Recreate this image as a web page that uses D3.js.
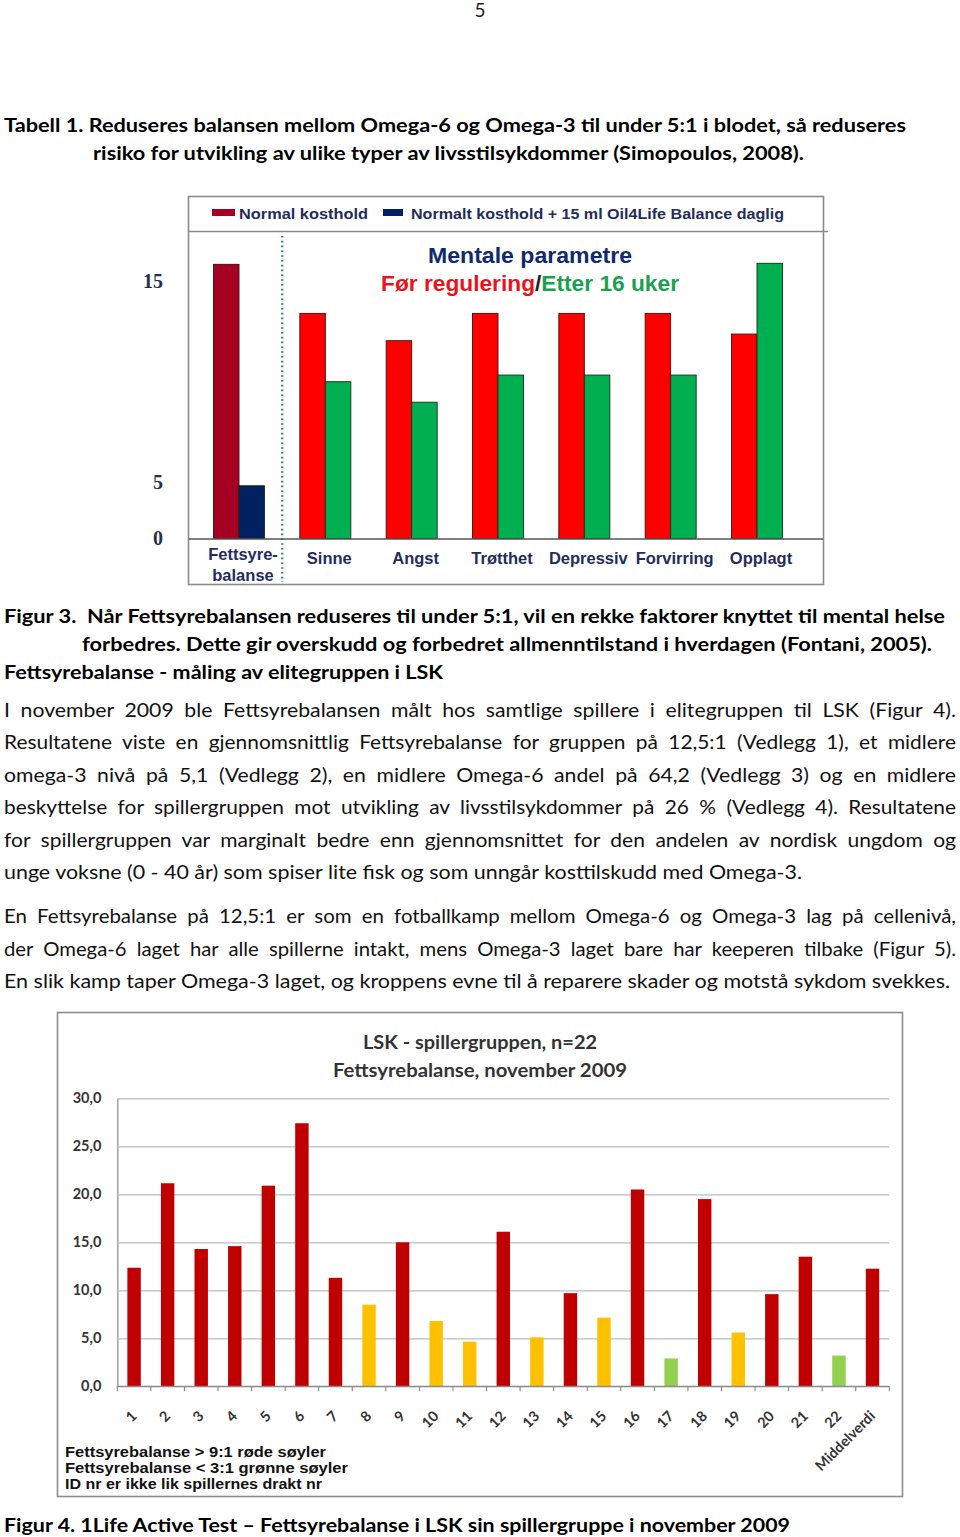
<!DOCTYPE html>
<html>
<head>
<meta charset="utf-8">
<script src="https://cdn.jsdelivr.net/npm/d3@7"></script>
<style>
  html, body { margin: 0; padding: 0; background: #fff; }
  svg { display: block; }
  text { white-space: pre; }
</style>
</head>
<body>
<svg id="page" width="960" height="1537"></svg>
<script>
// ---------------- DATA ----------------
// Figure 3: mental parameters
const mentalCategories = ["Fettsyre-balanse", "Sinne", "Angst", "Trøtthet", "Depressiv", "Forvirring", "Opplagt"];
const beforeValues = [15.83, 13.39, 12.03, 13.39, 13.39, 13.39, 12.36];
const afterValues  = [4.67, 9.99, 8.97, 10.32, 10.32, 10.32, 15.88];
const mentalTicks = [0, 5, 15];
const legendLabels = ["Normal kosthold", "Normalt kosthold + 15 ml Oil4Life Balance daglig"];

// Figure 4: LSK players fatty-acid balance
const players = ["1","2","3","4","5","6","7","8","9","10","11","12","13","14","15","16","17","18","19","20","21","22","Middelverdi"];
const ratios = [12.35, 21.15, 14.3, 14.6, 20.9, 27.4, 11.3, 8.5, 15.0, 6.8, 4.65, 16.1, 5.1, 9.7, 7.15, 20.5, 2.9, 19.5, 5.6, 9.6, 13.5, 3.2, 12.25];
const ratioTicks = [0, 5, 10, 15, 20, 25, 30];
const notes = ["Fettsyrebalanse > 9:1 røde søyler", "Fettsyrebalanse < 3:1 grønne søyler", "ID nr er ikke lik spillernes drakt nr"];

// ---------------- HELPERS ----------------
const svg = d3.select("#page");
const BODY = "Lato, 'Open Sans', sans-serif";
const ARIAL = "'Liberation Sans', Arial, sans-serif";

function putText(g, s, x, y, o) {
  const t = g.append("text")
    .attr("x", x).attr("y", y)
    .attr("font-family", o.family || BODY)
    .attr("font-size", o.size || 18.6)
    .attr("font-weight", o.bold ? 700 : 400)
    .attr("fill", o.fill || "#000")
    .attr("text-anchor", o.anchor || "start")
    .text(s);
  if (o.end !== undefined) {
    const target = o.end - x;
    const w = t.node().getComputedTextLength();
    const n = (s.match(/ /g) || []).length;
    if (o.justify && w < target && n > 0) {
      const ws = Math.min((target - w) / n, 4.5);
      t.attr("word-spacing", ws);
    }
    t.attr("textLength", target).attr("lengthAdjust", "spacingAndGlyphs");
  }
  return t;
}

// ---------------- PAGE TEXT ----------------
const pg = svg.append("g");
putText(pg, "5", 480, 17, {size: 19, anchor: "middle", fill: "#222"});
putText(pg, "Tabell 1. Reduseres balansen mellom Omega-6 og Omega-3 til under 5:1 i blodet, så reduseres", 4, 132, {bold: true, size: 19, end: 906});
putText(pg, "risiko for utvikling av ulike typer av livsstilsykdommer (Simopoulos, 2008).", 93, 160, {bold: true, size: 19, end: 804});
putText(pg, "Figur 3.  Når Fettsyrebalansen reduseres til under 5:1, vil en rekke faktorer knyttet til mental helse", 4, 623, {bold: true, size: 19, end: 945});
putText(pg, "forbedres. Dette gir overskudd og forbedret allmenntilstand i hverdagen (Fontani, 2005).", 82, 651, {bold: true, size: 19, end: 932});
putText(pg, "Fettsyrebalanse - måling av elitegruppen i LSK", 4, 679, {bold: true, size: 19, end: 443});

const para1 = [
  ["I november 2009 ble Fettsyrebalansen målt hos samtlige spillere i elitegruppen til LSK (Figur 4).", 956, true],
  ["Resultatene viste en gjennomsnittlig Fettsyrebalanse for gruppen på 12,5:1 (Vedlegg 1), et midlere", 956, true],
  ["omega-3 nivå på 5,1 (Vedlegg 2), en midlere Omega-6 andel på 64,2 (Vedlegg 3) og en midlere", 956, true],
  ["beskyttelse for spillergruppen mot utvikling av livsstilsykdommer på 26 % (Vedlegg 4). Resultatene", 956, true],
  ["for spillergruppen var marginalt bedre enn gjennomsnittet for den andelen av nordisk ungdom og", 956, true],
  ["unge voksne (0 - 40 år) som spiser lite fisk og som unngår kosttilskudd med Omega-3.", 802, false]
];
para1.forEach((l, i) => putText(pg, l[0], 4, 717 + i * 32.4, {end: l[1], justify: l[2], fill: "#111"}));
const para2 = [
  ["En Fettsyrebalanse på 12,5:1 er som en fotballkamp mellom Omega-6 og Omega-3 lag på cellenivå,", 956, true],
  ["der Omega-6 laget har alle spillerne intakt, mens Omega-3 laget bare har keeperen tilbake (Figur 5).", 956, true],
  ["En slik kamp taper Omega-3 laget, og kroppens evne til å reparere skader og motstå sykdom svekkes.", 950, false]
];
para2.forEach((l, i) => putText(pg, l[0], 4, 923 + i * 32.5, {end: l[1], justify: l[2], fill: "#111"}));
putText(pg, "Figur 4. 1Life Active Test – Fettsyrebalanse i LSK sin spillergruppe i november 2009", 4, 1532, {bold: true, size: 19, end: 790});

// ---------------- FIGURE 3 ----------------
const f3 = svg.append("g");
f3.append("rect").attr("x", 188.5).attr("y", 196.5).attr("width", 635).attr("height", 388)
  .attr("fill", "#fff").attr("stroke", "#8a8a8a").attr("stroke-width", 1.6);
f3.append("line").attr("x1", 189).attr("x2", 828).attr("y1", 231.5).attr("y2", 231.5)
  .attr("stroke", "#8a8a8a").attr("stroke-width", 1.3);

// legend
const navyText = "#1f2d5c";
f3.append("rect").attr("x", 212).attr("y", 209).attr("width", 23).attr("height", 7).attr("fill", "#a50021");
putText(f3, legendLabels[0], 239, 219, {family: ARIAL, bold: true, size: 15.5, fill: navyText, end: 368});
f3.append("rect").attr("x", 383).attr("y", 209).attr("width", 20).attr("height", 7).attr("fill", "#002060");
putText(f3, legendLabels[1], 411, 219, {family: ARIAL, bold: true, size: 15.5, fill: navyText, end: 784});

// titles
putText(f3, "Mentale parametre", 428, 263, {family: ARIAL, bold: true, size: 22, fill: "#102a6b", end: 632});
const t2 = f3.append("text").attr("x", 381).attr("y", 291)
  .attr("font-family", ARIAL).attr("font-weight", 700).attr("font-size", 22);
t2.append("tspan").attr("fill", "#e8141b").text("Før regulering");
t2.append("tspan").attr("fill", "#222").text("/");
t2.append("tspan").attr("fill", "#1ba14f").text("Etter 16 uker");
t2.attr("textLength", 298).attr("lengthAdjust", "spacingAndGlyphs");

// scales
const x3 = d3.scalePoint().domain(mentalCategories).range([239, 757]);
const x3s = d3.scaleBand().domain(["before", "after"]).range([-25.5, 25.5]);
const y3 = d3.scaleLinear().domain(mentalTicks).range([538.5, 482, 281]);

// dotted divider between first group and the rest
const divX = (x3(mentalCategories[0]) + x3(mentalCategories[1])) / 2;
f3.append("line").attr("x1", divX).attr("x2", divX).attr("y1", 236).attr("y2", 582)
  .attr("stroke", "#2f8088").attr("stroke-width", 2.4).attr("stroke-dasharray", "1.6,3.2");

const colBefore = (i) => i === 0 ? "#a50021" : "#ff0000";
const colAfter = (i) => i === 0 ? "#002060" : "#00b050";

const groups3 = f3.selectAll("g.grp").data(mentalCategories).join("g")
  .attr("transform", d => `translate(${x3(d)},0)`);
groups3.append("rect")
  .attr("x", x3s("before")).attr("width", x3s.bandwidth())
  .attr("y", (d, i) => y3(beforeValues[i]))
  .attr("height", (d, i) => y3(0) - y3(beforeValues[i]))
  .attr("fill", (d, i) => colBefore(i)).attr("stroke", "#3a1010").attr("stroke-width", 0.9);
groups3.append("rect")
  .attr("x", x3s("after")).attr("width", x3s.bandwidth())
  .attr("y", (d, i) => y3(afterValues[i]))
  .attr("height", (d, i) => y3(0) - y3(afterValues[i]))
  .attr("fill", (d, i) => colAfter(i)).attr("stroke", "#1b2b1b").attr("stroke-width", 0.9);

// axis line
f3.append("line").attr("x1", 189).attr("x2", 823).attr("y1", 539).attr("y2", 539)
  .attr("stroke", "#555").attr("stroke-width", 1.3);

// y labels
f3.selectAll("text.yl").data(mentalTicks).join("text")
  .attr("x", 163).attr("y", d => y3(d)).attr("dy", "0.33em")
  .attr("text-anchor", "end")
  .attr("font-family", "'Liberation Serif', 'Times New Roman', serif")
  .attr("font-weight", 700).attr("font-size", 20).attr("fill", "#24314d")
  .text(d => d);

// category labels
groups3.each(function(d) {
  const g = d3.select(this);
  const parts = d.includes("-") ? [d.slice(0, d.indexOf("-") + 1), d.slice(d.indexOf("-") + 1)] : [d];
  const t = g.append("text").attr("text-anchor", "middle")
    .attr("font-family", ARIAL).attr("font-weight", 700).attr("font-size", 16.5).attr("fill", "#1f2d5c");
  if (parts.length === 2) {
    t.append("tspan").attr("x", 4).attr("y", 560).text(parts[0]);
    t.append("tspan").attr("x", 4).attr("y", 581).text(parts[1]);
  } else {
    t.attr("x", 4).attr("y", 564).text(parts[0]);
  }
});

// ---------------- FIGURE 4 ----------------
const f4 = svg.append("g");
f4.append("rect").attr("x", 57.5).attr("y", 1012.5).attr("width", 845).attr("height", 484)
  .attr("fill", "#fff").attr("stroke", "#8c8c8c").attr("stroke-width", 1.6);

putText(f4, "LSK - spillergruppen, n=22", 363, 1049, {bold: true, size: 19, fill: "#333", end: 597});
putText(f4, "Fettsyrebalanse, november 2009", 333, 1077, {bold: true, size: 19, fill: "#333", end: 627});

const x4 = d3.scaleBand().domain(players).range([117.3, 889.3]).paddingInner(0.6).paddingOuter(0.3);
const y4 = d3.scaleLinear().domain([0, 30]).range([1386.3, 1098.3]);

const fmt = v => d3.format(".1f")(v).replace(".", ",");
const yAxis = d3.axisLeft(y4).tickValues(ratioTicks).tickFormat(fmt)
  .tickSize(-(889.3 - 117.3)).tickSizeOuter(0).tickPadding(16);
const ya = f4.append("g").attr("transform", "translate(117.3,0)").call(yAxis);
ya.select(".domain").attr("stroke", "#8a8a8a").attr("stroke-width", 1.2);
ya.selectAll(".tick line").attr("stroke", "#bdbdbd").attr("stroke-width", 1.2);
ya.selectAll(".tick text").attr("font-family", BODY).attr("font-weight", 700)
  .attr("font-size", 14.5).attr("fill", "#333");

const colorFor = v => v > 9 ? "#c00000" : (v < 3.5 ? "#92d050" : "#ffc000");
f4.selectAll("rect.bar").data(players).join("rect").attr("class", "bar")
  .attr("x", d => x4(d)).attr("width", x4.bandwidth())
  .attr("y", (d, i) => y4(ratios[i]))
  .attr("height", (d, i) => y4(0) - y4(ratios[i]))
  .attr("fill", (d, i) => colorFor(ratios[i]));

// x axis line and boundary ticks
f4.append("line").attr("x1", 117.3).attr("x2", 889.3).attr("y1", y4(0)).attr("y2", y4(0))
  .attr("stroke", "#8a8a8a").attr("stroke-width", 1.2);
const gap = (x4.step() - x4.bandwidth()) / 2;
const bounds = players.map(d => x4(d) - gap).concat([x4(players[players.length - 1]) + x4.bandwidth() + gap]);
f4.selectAll("line.xt").data(bounds).join("line")
  .attr("x1", d => d).attr("x2", d => d).attr("y1", y4(0)).attr("y2", y4(0) + 5)
  .attr("stroke", "#8a8a8a").attr("stroke-width", 1.1);

// rotated labels
f4.selectAll("text.xl").data(players).join("text")
  .attr("transform", d => `translate(${x4(d) + x4.bandwidth() / 2 + 3.5},1417) rotate(-45)`)
  .attr("text-anchor", "end")
  .attr("font-family", BODY).attr("font-weight", 700).attr("font-size", 14.5).attr("fill", "#333")
  .text(d => d);

// notes
notes.forEach((n, i) => {
  const ends = [326, 348, 322];
  putText(f4, n, 65, 1457 + i * 16, {family: ARIAL, bold: true, size: 14, fill: "#111", end: ends[i]});
});
</script>
</body>
</html>
